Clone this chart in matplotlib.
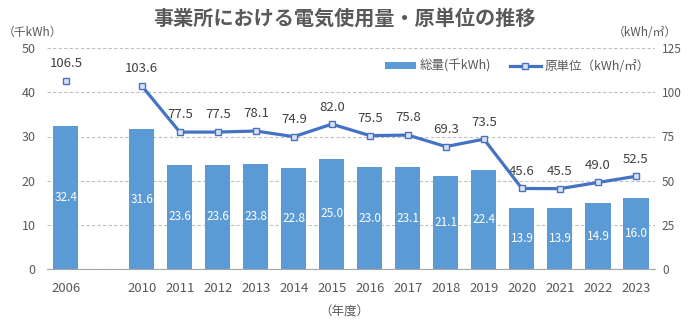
import matplotlib.pyplot as plt
import numpy as np

plt.rcParams['font.family'] = ['Noto Sans CJK JP', 'DejaVu Sans']

years = ["2006", "", "2010", "2011", "2012", "2013", "2014", "2015", "2016",
         "2017", "2018", "2019", "2020", "2021", "2022", "2023"]
total = [32.4, None, 31.6, 23.6, 23.6, 23.8, 22.8, 25.0, 23.0,
         23.1, 21.1, 22.4, 13.9, 13.9, 14.9, 16.0]
unit = [106.5, None, 103.6, 77.5, 77.5, 78.1, 74.9, 82.0, 75.5,
        75.8, 69.3, 73.5, 45.6, 45.5, 49.0, 52.5]

bar_c = "#5B9BD5"
line_c = "#4472C4"
txt_c = "#595959"

fig = plt.figure(figsize=(6.88, 3.25), dpi=100)
ax = fig.add_axes([0.068, 0.172, 0.884, 0.68])
ax2 = ax.twinx()

x = np.arange(len(years))
bx = [i for i in x if total[i] is not None]
bv = [total[i] for i in bx]
ax.bar(bx, bv, width=0.66, color=bar_c, label="総量(千kWh)", zorder=2)
for i, v in zip(bx, bv):
    ax.text(i, v / 2, f"{v:.1f}", ha="center", va="center", color="white", fontsize=8.5, zorder=3)

ax.set_ylim(0, 50)
ax.set_yticks(range(0, 51, 10))
ax.set_xlim(-0.5, len(years) - 0.5)
ax.set_xticks(x)
ax.set_xticklabels(years)
ax.grid(axis="y", linestyle=(0, (3, 2)), color="#BFBFBF", linewidth=0.8, zorder=0)
ax.set_axisbelow(True)

# 2006は単独の点、2010以降を線でつなぐ
lx = x[2:]
lv = unit[2:]
ax2.plot(lx, lv, color=line_c, linewidth=2.3, marker="s", markersize=4.5,
         markerfacecolor="#DAE3F3", markeredgecolor=line_c, markeredgewidth=1,
         label="原単位（kWh/㎡）", zorder=4)
ax2.plot([0], [unit[0]], linestyle="none", marker="s", markersize=4.5,
         markerfacecolor="#DAE3F3", markeredgecolor=line_c, markeredgewidth=1, zorder=4)
for i, v in enumerate(unit):
    if v is None:
        continue
    ax2.text(i, v + 6, f"{v:.1f}", ha="center", va="bottom", color="#404040", fontsize=9.5)
ax2.set_ylim(0, 125)
ax2.set_yticks(range(0, 126, 25))

for a in (ax, ax2):
    for s in ("top", "left", "right"):
        a.spines[s].set_visible(False)
    a.tick_params(length=0, labelcolor=txt_c, labelsize=9)
ax.spines["bottom"].set_color("#A6A6A6")
ax2.spines["bottom"].set_visible(False)
ax.tick_params(axis="x", pad=9, labelsize=9.5)
ax.tick_params(axis="y", pad=8)
ax2.tick_params(axis="y", pad=5, labelsize=8.5)

fig.text(0.5, 0.945, "事業所における電気使用量・原単位の推移", ha="center", va="center",
         fontsize=14.5, color="#595959", fontweight="bold")
fig.text(0.047, 0.9, "（千kWh）", ha="center", va="center", fontsize=8.5, color=txt_c)
fig.text(0.937, 0.9, "（kWh/㎡）", ha="center", va="center", fontsize=8.5, color=txt_c)
fig.text(0.5, 0.04, "（年度）", ha="center", va="center", fontsize=9, color=txt_c)

h1, l1 = ax.get_legend_handles_labels()
h2, l2 = ax2.get_legend_handles_labels()
fig.legend(h1 + h2, l1 + l2, loc="center", bbox_to_anchor=(0.752, 0.797), ncol=2,
           frameon=False, fontsize=9, labelcolor=txt_c, handlelength=2.5, handleheight=0.5,
           columnspacing=1.5, handletextpad=0.3)

plt.savefig("out.png", dpi=100)
